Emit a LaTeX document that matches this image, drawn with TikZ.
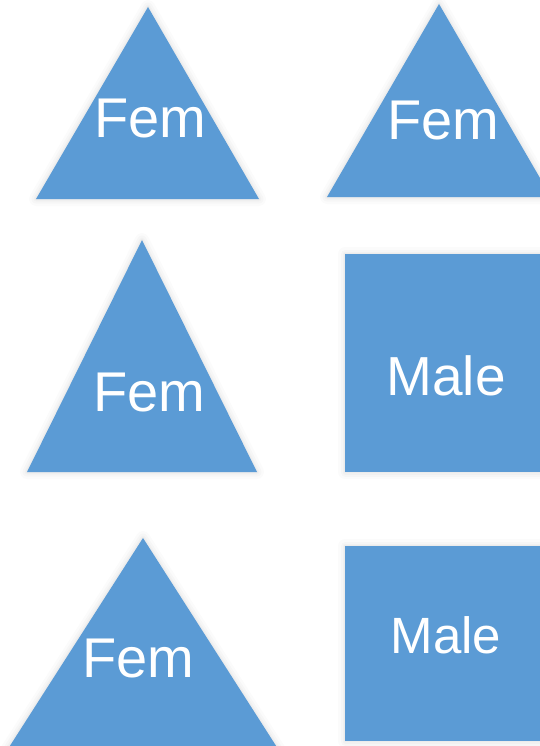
\documentclass[tikz,border=0pt]{standalone}
\usepackage{fontspec}
\setmainfont{Liberation Sans}
\definecolor{shapeblue}{HTML}{5B9BD5}
\tikzset{
  x=1pt, y=-1pt,
  shapefill/.style={fill=shapeblue},
  glow/.style={draw=black, line join=round, draw opacity=#1},
  label/.style={anchor=base, text=white, inner sep=0pt},
}
\newcommand{\glowpath}[1]{%
  \draw[glow=0.015, line width=14pt] #1;
  \draw[glow=0.02, line width=9pt] #1;
  \draw[glow=0.02, line width=5pt] #1;
  \draw[glow=0.02, line width=2.5pt] #1;
}
\begin{document}
\begin{tikzpicture}
  \useasboundingbox (0,0) rectangle (539,746);
  \fill[white] (0,0) rectangle (539,746);

  % soft halo behind every shape
  \glowpath{(148,7) -- (259,199) -- (36,199) -- cycle}
  \glowpath{(439,4) -- (551,197) -- (327,197) -- cycle}
  \glowpath{(142,240) -- (257,472) -- (27,472) -- cycle}
  \glowpath{(143,538) -- (280,752) -- (6,752) -- cycle}
  \glowpath{(345,254) rectangle (560,472)}
  \glowpath{(345,546) rectangle (560,741)}

  % shapes
  \fill[shapefill] (148,7) -- (259,199) -- (36,199) -- cycle;
  \fill[shapefill] (439,4) -- (551,197) -- (327,197) -- cycle;
  \fill[shapefill] (142,240) -- (257,472) -- (27,472) -- cycle;
  \fill[shapefill] (143,538) -- (280,752) -- (6,752) -- cycle;
  \fill[shapefill] (345,254) rectangle (560,472);
  \fill[shapefill] (345,546) rectangle (560,741);

  % labels
  \node[label, font=\fontsize{56}{56}\selectfont] (fem1) at (150,138) {Fem};
  \node[label, font=\fontsize{56}{56}\selectfont] (fem2) at (443,140) {Fem};
  \node[label, font=\fontsize{56}{56}\selectfont] (fem3) at (149.5,411) {Fem};
  \node[label, font=\fontsize{56}{56}\selectfont] (fem4) at (138,677) {Fem};
  \node[label, font=\fontsize{55}{55}\selectfont] (male1) at (446,395) {Male};
  \node[label, font=\fontsize{51}{51}\selectfont] (male2) at (446,653) {Male};
\end{tikzpicture}
\end{document}
